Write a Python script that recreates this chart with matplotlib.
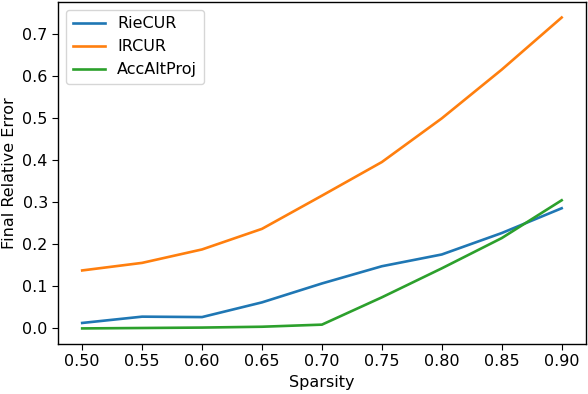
import matplotlib
matplotlib.use("Agg")
import matplotlib.pyplot as plt

sparsity = [0.50, 0.55, 0.60, 0.65, 0.70, 0.75, 0.80, 0.85, 0.90]
riecur = [0.013, 0.028, 0.027, 0.062, 0.107, 0.148, 0.176, 0.227, 0.286]
ircur = [0.138, 0.156, 0.188, 0.237, 0.316, 0.396, 0.500, 0.616, 0.740]
accaltproj = [0.000, 0.001, 0.002, 0.004, 0.009, 0.074, 0.143, 0.215, 0.305]

plt.rcParams["font.size"] = 11.5
plt.rcParams["axes.linewidth"] = 1.0
plt.rcParams["xtick.major.size"] = 4
plt.rcParams["ytick.major.size"] = 4

fig = plt.figure(figsize=(5.88, 3.94), dpi=100)
ax = fig.add_subplot(111)
ax.plot(sparsity, riecur, label="RieCUR", linewidth=1.9)
ax.plot(sparsity, ircur, label="IRCUR", linewidth=1.9)
ax.plot(sparsity, accaltproj, label="AccAltProj", linewidth=1.9)
ax.set_xlabel("Sparsity")
ax.set_ylabel("Final Relative Error")
ax.legend(loc="upper left")
fig.subplots_adjust(left=0.099, right=0.996, top=0.995, bottom=0.127)
fig.savefig("out.png", dpi=100)
